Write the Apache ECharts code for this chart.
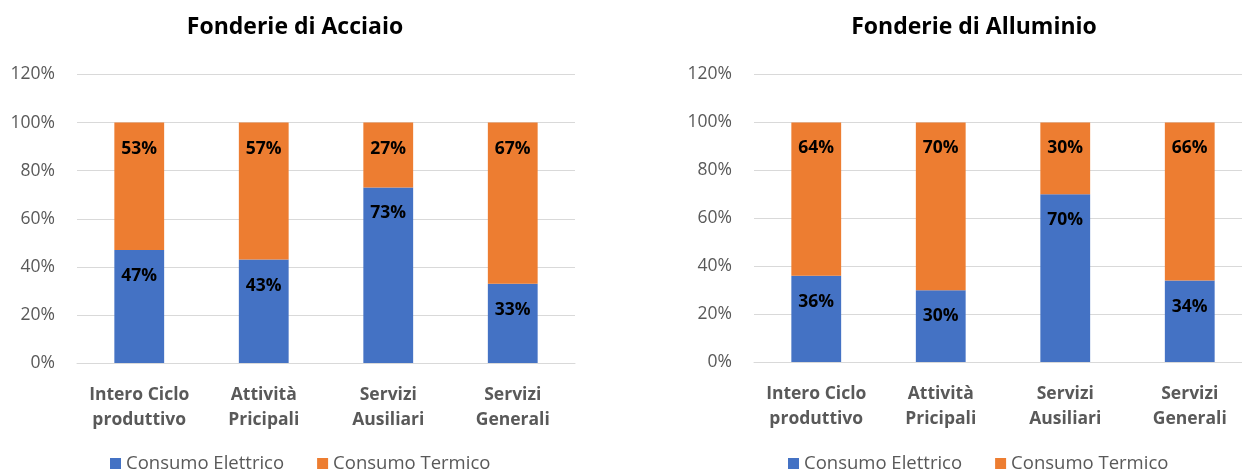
<!DOCTYPE html>
<html>
<head>
<meta charset="utf-8">
<script src="https://cdn.jsdelivr.net/npm/echarts@6/dist/echarts.min.js"></script>
<style>
html,body{margin:0;padding:0;background:#fff;}
#c{width:1242px;height:473px;}
</style>
</head>
<body>
<div id="c"></div>
<script>
const categories = ['Intero Ciclo\nproduttivo', 'Attività\nPricipali', 'Servizi\nAusiliari', 'Servizi\nGenerali'];
const titles = ['Fonderie di Acciaio', 'Fonderie di Alluminio'];
const seriesNames = ['Consumo Elettrico', 'Consumo Termico'];
const acciaioElettrico = [47, 43, 73, 33];
const acciaioTermico = [53, 57, 27, 67];
const alluminioElettrico = [36, 30, 70, 34];
const alluminioTermico = [64, 70, 30, 66];
const yMin = 0, yMax = 120, yStep = 20;

const FONT = '"Open Sans", "Noto Sans", sans-serif';
const BLUE = '#4472C4', ORANGE = '#ED7D31';

const chart = echarts.init(document.getElementById('c'), null, {renderer: 'canvas'});

function xAxis(i) {
  return {
    type: 'category', gridIndex: i, data: categories,
    axisLine: {show: true, lineStyle: {color: '#D9D9D9', width: 1}},
    axisTick: {show: false},
    axisLabel: {color: '#595959', fontFamily: FONT, fontWeight: 'bold', fontSize: 17.5, lineHeight: 25, margin: 20, interval: 0}
  };
}
function yAxis(i) {
  return {
    type: 'value', gridIndex: i, min: yMin, max: yMax, interval: yStep,
    axisLine: {show: false}, axisTick: {show: false},
    splitLine: {lineStyle: {color: '#D9D9D9', width: 1}},
    axisLabel: {color: '#595959', fontFamily: FONT, fontSize: 17.5, margin: 22, formatter: '{value}%'}
  };
}
function bar(name, data, i, color) {
  return {
    name: name, type: 'bar', stack: 's' + i, xAxisIndex: i, yAxisIndex: i,
    data: data, barWidth: '40%', itemStyle: {color: color},
    label: {show: true, position: 'insideTop', distance: 17, formatter: '{c}%',
      color: '#000', fontFamily: FONT, fontWeight: 'bold', fontSize: 17.5}
  };
}
function legend(left) {
  return {
    data: seriesNames, left: left, top: 449, itemWidth: 11, itemHeight: 11, itemGap: 33,
    icon: 'rect', selectedMode: false,
    textStyle: {color: '#595959', fontFamily: FONT, fontSize: 18.5}
  };
}

chart.setOption({
  animation: false,
  title: [
    {text: titles[0], left: 290, top: 11, textAlign: 'center',
     textStyle: {fontFamily: FONT, fontWeight: 'bold', fontSize: 23, color: '#000'}},
    {text: titles[1], left: 969, top: 11, textAlign: 'center',
     textStyle: {fontFamily: FONT, fontWeight: 'bold', fontSize: 23, color: '#000'}}
  ],
  legend: [legend(105), legend(783)],
  grid: [
    {left: 77, width: 498, top: 74.5, bottom: 110, outerBoundsMode: 'none', containLabel: false},
    {left: 754, width: 498, top: 74.5, bottom: 111, outerBoundsMode: 'none', containLabel: false}
  ],
  xAxis: [xAxis(0), xAxis(1)],
  yAxis: [yAxis(0), yAxis(1)],
  series: [
    bar(seriesNames[0], acciaioElettrico, 0, BLUE),
    bar(seriesNames[1], acciaioTermico, 0, ORANGE),
    bar(seriesNames[0], alluminioElettrico, 1, BLUE),
    bar(seriesNames[1], alluminioTermico, 1, ORANGE)
  ]
});
</script>
</body>
</html>
